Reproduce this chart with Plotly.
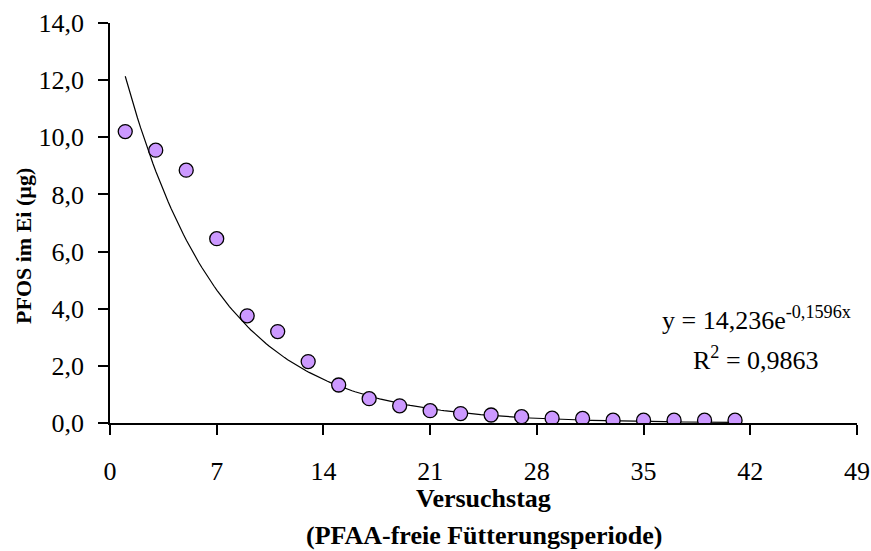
import numpy as np
import plotly.graph_objects as go

days = [1, 3, 5, 7, 9, 11, 13, 15, 17, 19, 21, 23, 25, 27, 29, 31, 33, 35, 37, 39, 41]
pfos = [10.2, 9.55, 8.85, 6.45, 3.75, 3.2, 2.15, 1.33, 0.85, 0.6, 0.43, 0.33, 0.28, 0.22,
        0.17, 0.16, 0.1, 0.1, 0.1, 0.1, 0.1]
fit_a = 14.236
fit_b = -0.1596
x_ticks = [0, 7, 14, 21, 28, 35, 42, 49]
y_ticks = [0, 2, 4, 6, 8, 10, 12, 14]
y_tick_labels = ["0,0", "2,0", "4,0", "6,0", "8,0", "10,0", "12,0", "14,0"]

xf = np.linspace(days[0], days[-1], 200)
yf = fit_a * np.exp(fit_b * xf)

font = "Liberation Serif"
fig = go.Figure()
fig.add_trace(go.Scatter(x=xf, y=yf, mode="lines", line=dict(color="black", width=1.2),
                         showlegend=False, hoverinfo="skip"))
fig.add_trace(go.Scatter(x=days, y=pfos, mode="markers",
                         marker=dict(size=14, color="#CC99FF", line=dict(color="black", width=1.3)),
                         showlegend=False))

fig.update_layout(
    width=871, height=551,
    margin=dict(l=110, r=14, t=23, b=128),
    plot_bgcolor="white", paper_bgcolor="white",
    font=dict(family=font, size=26, color="black"),
    xaxis=dict(range=[0, 49], tickvals=x_ticks, showline=True, linecolor="black", linewidth=1.5,
               ticks="outside", ticklen=10, tickwidth=1.5, tickcolor="black", showgrid=False,
               zeroline=False, ticklabelstandoff=14, automargin=False,
               tickfont=dict(family=font, size=26)),
    yaxis=dict(range=[0, 14], tickvals=y_ticks, ticktext=y_tick_labels, showline=True,
               linecolor="black", linewidth=1.5, ticks="outside", ticklen=10, tickwidth=1.5,
               tickcolor="black", showgrid=False, zeroline=False, ticklabelstandoff=9,
               automargin=False, tickfont=dict(family=font, size=26)),
    annotations=[
        dict(text="<b>Versuchstag</b>", xref="paper", yref="paper", x=0.5, y=-0.1875,
             yanchor="middle", showarrow=False, font=dict(family=font, size=26)),
        dict(text="<b>(PFAA-freie Fütterungsperiode)</b>", xref="paper", yref="paper", x=0.5,
             y=-0.28, yanchor="middle", showarrow=False, font=dict(family=font, size=26)),
        dict(text="<b>PFOS im Ei (µg)</b>", xref="paper", yref="paper", x=-0.1165, y=0.4425,
             textangle=-90, xanchor="center", yanchor="middle", showarrow=False,
             font=dict(family=font, size=22)),
        dict(text="y = 14,236e<sup>-0,1596x</sup>", xref="x", yref="y", x=42.4, y=3.65,
             showarrow=False, font=dict(family=font, size=26)),
        dict(text="R<sup>2</sup> = 0,9863", xref="x", yref="y", x=42.4, y=2.27,
             showarrow=False, font=dict(family=font, size=26)),
    ],
)
fig.write_html("out.html")
